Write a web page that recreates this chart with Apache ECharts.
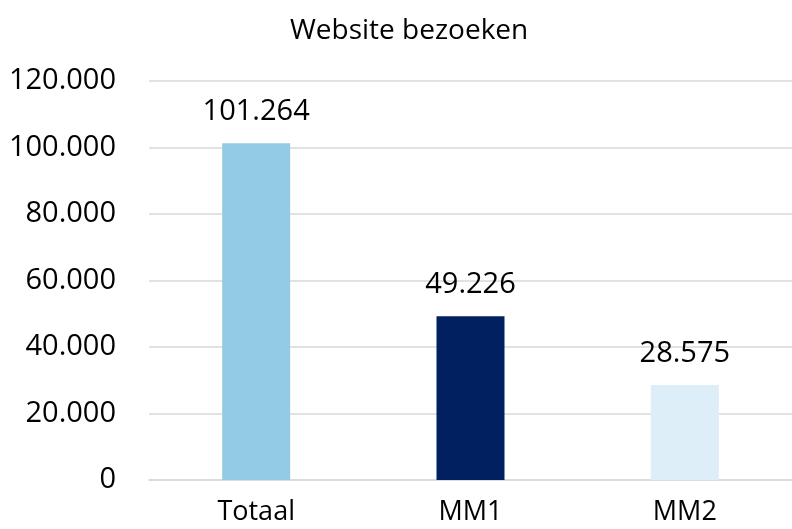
<!DOCTYPE html>
<html>
<head>
<meta charset="utf-8">
<script src="https://cdn.jsdelivr.net/npm/echarts@6/dist/echarts.min.js"></script>
<style>
  html, body { margin: 0; padding: 0; background: #fff; }
  #chart { width: 792px; height: 529px; }
</style>
</head>
<body>
<div id="chart"></div>
<script>
const categories = ['Totaal', 'MM1', 'MM2'];
const visits = [101264, 49226, 28575];
const barColors = ['#93CAE6', '#002060', '#DDEEF8'];

const fmt = v => String(v).replace(/\B(?=(\d{3})+(?!\d))/g, '.');

const chart = echarts.init(document.getElementById('chart'));
chart.setOption({
  animation: false,
  textStyle: { fontFamily: 'Open Sans', color: '#000' },
  title: {
    text: 'Website bezoeken',
    left: 285,
    top: 12,
    textStyle: { fontFamily: 'Open Sans', fontWeight: 'normal', fontSize: 28, color: '#000' }
  },
  grid: { left: 149, right: 0, top: 81, bottom: 49 },
  xAxis: {
    type: 'category',
    data: categories,
    axisTick: { show: false },
    axisLine: { lineStyle: { color: '#D9D9D9', width: 1.5 } },
    axisLabel: { fontSize: 27, color: '#000', margin: 19 }
  },
  yAxis: {
    type: 'value',
    min: 0,
    max: 120000,
    interval: 20000,
    axisLine: { show: false },
    axisTick: { show: false },
    splitLine: { lineStyle: { color: '#D9D9D9', width: 1.5 } },
    axisLabel: { fontSize: 29, color: '#000', margin: 33, formatter: fmt }
  },
  series: [{
    type: 'bar',
    barWidth: 68,
    data: visits.map((v, i) => ({ value: v, itemStyle: { color: barColors[i] } })),
    label: {
      show: true,
      position: 'top',
      distance: 17,
      fontSize: 29,
      color: '#000',
      formatter: p => fmt(p.value)
    }
  }]
});
</script>
</body>
</html>
